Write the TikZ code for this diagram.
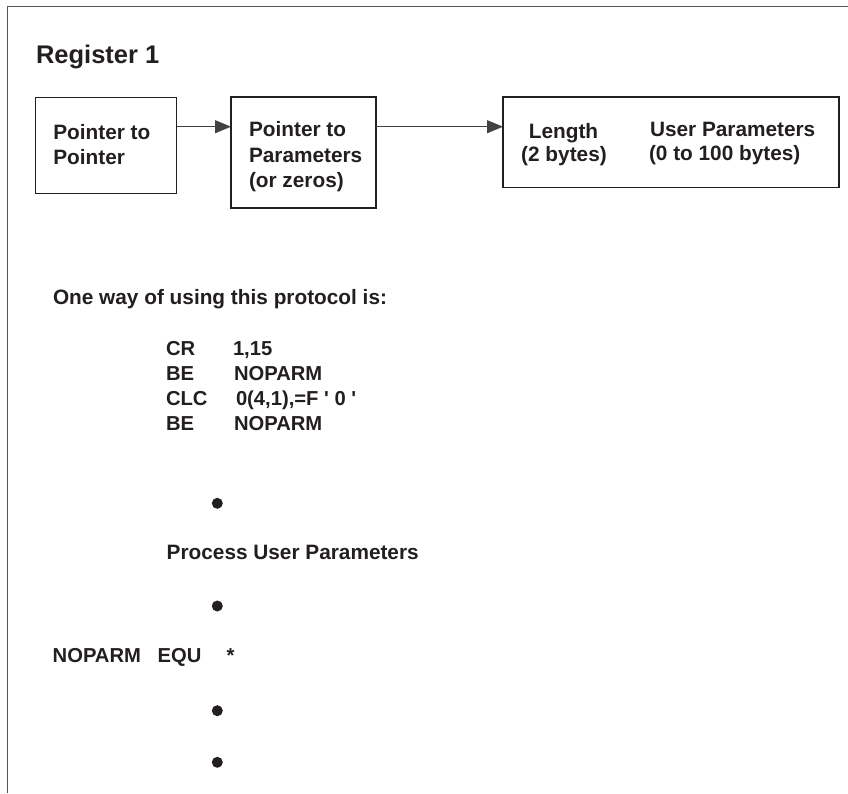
\documentclass[tikz,border=0pt]{standalone}
\usepackage{fontspec}
\setmainfont{Liberation Sans}
\usetikzlibrary{arrows.meta}
\definecolor{ink}{HTML}{231F20}
\definecolor{rule}{HTML}{555555}
\begin{document}
\begin{tikzpicture}[x=1pt,y=-1pt,
  every node/.style={inner sep=0pt,outer sep=0pt,text=ink},
  txt/.style={anchor=base west,font=\bfseries\fontsize{20.8}{25}\selectfont},
  ctxt/.style={anchor=base,font=\bfseries\fontsize{20.8}{25}\selectfont},
  code/.style={anchor=base west,font=\bfseries\fontsize{20.2}{25}\selectfont},
  box/.style={draw=ink,line width=1.3pt,fill=none,rectangle},
  arr/.style={draw=ink!85,line width=1pt,-{Triangle[length=16pt,width=13pt]}},
  dot/.style={circle,fill=ink,minimum size=11pt}]
\useasboundingbox (0,0) rectangle (848,793);
% frame
\coordinate (ftl) at (7.3,6.7);
\coordinate (ftr) at (848,6.7);
\coordinate (fbl) at (7.3,793);
\draw[rule,line width=1.2pt] (ftr) -- (ftl) -- (fbl);
% title
\node[anchor=base west,font=\bfseries\fontsize{25.5}{30}\selectfont] (title) at (36,63.3) {Register 1};
% boxes
\node[box,minimum width=141pt,minimum height=96pt] (b1) at (106.2,145.3) {};
\node[box,minimum width=145pt,minimum height=111pt] (b2) at (303.5,152.5) {};
\node[box,minimum width=336pt,minimum height=90.3pt] (b3) at (671,142.2) {};
% box texts
\node[txt] (b1a) at (53.3,139.3) {Pointer to};
\node[txt] (b1b) at (53.3,164.3) {Pointer};
\node[txt] (b2a) at (249,136.7) {Pointer to};
\node[txt] (b2b) at (249,162.3) {Parameters};
\node[txt] (b2c) at (249,187.5) {(or zeros)};
\node[ctxt] (b3a) at (563.5,138) {Length};
\node[ctxt] (b3b) at (564,161.7) {(2 bytes)};
\node[txt] (b3c) at (650,136) {User Parameters};
\node[txt] (b3d) at (649,160) {(0 to 100 bytes)};
% arrows
\coordinate (ay) at (0,126.7);
\draw[arr] (b1.east |- ay) -- (b2.west |- ay);
\draw[arr] (b2.east |- ay) -- (b3.west |- ay);
% text
\node[txt] (intro) at (53,304) {One way of using this protocol is:};
\node[code] (c1a) at (166,355) {CR};
\node[code] (c1b) at (233,355) {1,15};
\node[code] (c2a) at (166,380) {BE};
\node[code] (c2b) at (234,380) {NOPARM};
\node[code] (c3a) at (166,405) {CLC};
\node[code] (c3b) at (236,405) {0(4,1),=F \textquotesingle\ 0 \textquotesingle};
\node[code] (c4a) at (166,430) {BE};
\node[code] (c4b) at (234,430) {NOPARM};
\node[dot] (d1) at (217.3,503.3) {};
\node[txt] (proc) at (166.7,559) {Process User Parameters};
\node[dot] (d2) at (217.3,606) {};
\node[code] (n1) at (52.7,662.7) {NOPARM};
\node[code] (n2) at (157.7,662.7) {EQU};
\node[code] (n3) at (226.7,662.7) {*};
\node[dot] (d3) at (217.3,710.7) {};
\node[dot] (d4) at (217.3,762.3) {};
\end{tikzpicture}
\end{document}
